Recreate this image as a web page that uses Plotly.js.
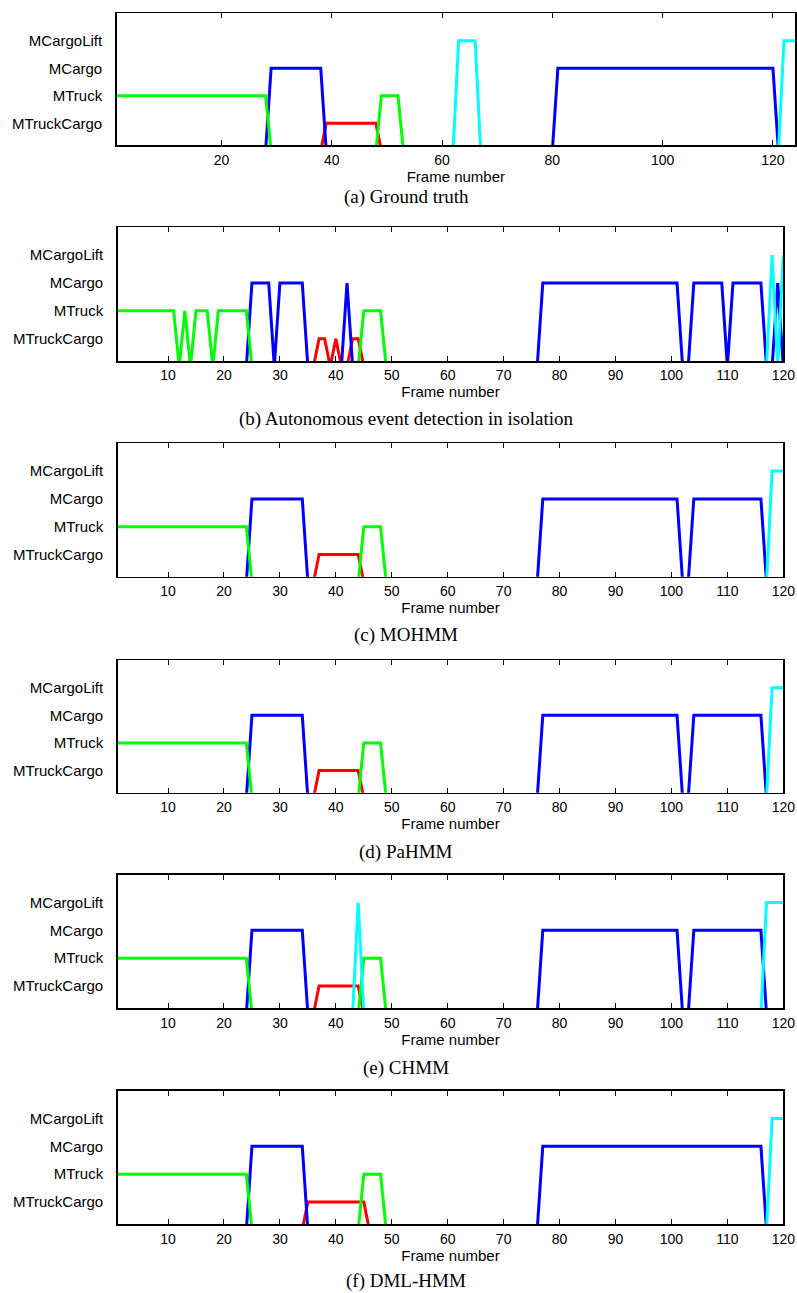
<!DOCTYPE html>
<html>
<head>
<meta charset="utf-8">
<script src="https://cdn.plot.ly/plotly-3.0.1.min.js"></script>
<style>
  html, body { margin: 0; padding: 0; background: #fff; }
  #chart { width: 797px; height: 1293px; }
</style>
</head>
<body>
<div id="chart"></div>
<script>
// ---------- DATA ----------
// y tick labels (levels 1..4)
const classNames = ['MTruckCargo', 'MTruck', 'MCargo', 'MCargoLift'];
const classColors = ['#ff0000', '#00ff00', '#0000ff', '#00ffff'];

// Each panel: segments of frames where a class is active (class, first frame, last frame)
// (a) Ground truth
const gtFrames = 124;
const gtClass = ['MTruck', 'MCargo', 'MTruckCargo', 'MTruck', 'MCargoLift', 'MCargo', 'MCargoLift'];
const gtStart = [1, 29, 39, 49, 63, 81, 122];
const gtEnd   = [28, 38, 48, 52, 66, 120, 124];

// (b) Autonomous event detection in isolation
const isoFrames = 120;
const isoClass = ['MTruck', 'MTruck', 'MTruck', 'MTruck', 'MCargo', 'MCargo', 'MTruckCargo', 'MTruckCargo',
                  'MCargo', 'MTruckCargo', 'MTruck', 'MCargo', 'MCargo', 'MCargo', 'MCargoLift', 'MCargo', 'MCargoLift'];
const isoStart = [1, 13, 15, 19, 25, 30, 37, 40, 42, 43, 45, 77, 104, 111, 118, 119, 120];
const isoEnd   = [11, 13, 17, 24, 28, 34, 38, 40, 42, 44, 48, 101, 109, 116, 118, 119, 120];

// (c) MOHMM
const mohFrames = 120;
const mohClass = ['MTruck', 'MCargo', 'MTruckCargo', 'MTruck', 'MCargo', 'MCargo', 'MCargoLift'];
const mohStart = [1, 25, 37, 45, 77, 104, 118];
const mohEnd   = [24, 34, 44, 48, 101, 116, 120];

// (d) PaHMM
const pahFrames = 120;
const pahClass = ['MTruck', 'MCargo', 'MTruckCargo', 'MTruck', 'MCargo', 'MCargo', 'MCargoLift'];
const pahStart = [1, 25, 37, 45, 77, 104, 118];
const pahEnd   = [24, 34, 44, 48, 101, 116, 120];

// (e) CHMM
const chmFrames = 120;
const chmClass = ['MTruck', 'MCargo', 'MTruckCargo', 'MCargoLift', 'MTruck', 'MCargo', 'MCargo', 'MCargoLift'];
const chmStart = [1, 25, 37, 44, 45, 77, 104, 117];
const chmEnd   = [24, 34, 44, 44, 48, 101, 116, 120];

// (f) DML-HMM
const dmlFrames = 120;
const dmlClass = ['MTruck', 'MCargo', 'MTruckCargo', 'MTruck', 'MCargo', 'MCargoLift'];
const dmlStart = [1, 25, 35, 45, 77, 118];
const dmlEnd   = [24, 34, 45, 48, 116, 120];

const captions = ['(a) Ground truth', '(b) Autonomous event detection in isolation', '(c) MOHMM',
                  '(d) PaHMM', '(e) CHMM', '(f) DML-HMM'];
const xTickA = [20, 40, 60, 80, 100, 120];
const xTickB = [10, 20, 30, 40, 50, 60, 70, 80, 90, 100, 110, 120];

// ---------- BUILD ----------
const panels = [
  {n: gtFrames,  cls: gtClass,  s: gtStart,  e: gtEnd,  ticks: xTickA, box: [116.7, 795, 13.3, 145.3]},
  {n: isoFrames, cls: isoClass, s: isoStart, e: isoEnd, ticks: xTickB, box: [117.7, 783.3, 227.3, 361]},
  {n: mohFrames, cls: mohClass, s: mohStart, e: mohEnd, ticks: xTickB, box: [117.7, 783.3, 443.3, 576.7]},
  {n: pahFrames, cls: pahClass, s: pahStart, e: pahEnd, ticks: xTickB, box: [117.7, 783.3, 660, 792.7]},
  {n: chmFrames, cls: chmClass, s: chmStart, e: chmEnd, ticks: xTickB, box: [117.7, 783.3, 874.7, 1008.3]},
  {n: dmlFrames, cls: dmlClass, s: dmlStart, e: dmlEnd, ticks: xTickB, box: [117.7, 783.3, 1090.7, 1224.3]}
];
const captionY = [197, 419, 635, 852, 1068, 1281];

const W = 797, H = 1293;
const traces = [];
const layout = {
  width: W, height: H,
  margin: {l: 0, r: 0, t: 0, b: 0},
  paper_bgcolor: '#ffffff', plot_bgcolor: '#ffffff',
  showlegend: false,
  annotations: []
};
const drawOrder = [0, 2, 1, 3]; // red, blue, green, cyan

panels.forEach((p, i) => {
  const idx = i === 0 ? '' : String(i + 1);
  const xa = 'x' + idx, ya = 'y' + idx;
  const frames = [];
  for (let f = 1; f <= p.n; f++) frames.push(f);
  drawOrder.forEach(c => {
    const name = classNames[c];
    const y = frames.map(f => {
      for (let k = 0; k < p.cls.length; k++) {
        if (p.cls[k] === name && f >= p.s[k] && f <= p.e[k]) return c + 1;
      }
      return 0;
    });
    traces.push({
      type: 'scatter', mode: 'lines', x: frames, y: y, xaxis: xa, yaxis: ya,
      line: {color: classColors[c], width: 3}, name: name, hoverinfo: 'skip'
    });
  });
  const [l, r, t, b] = p.box;
  layout['xaxis' + idx] = {
    domain: [l / W, r / W], anchor: ya, range: [1, p.n],
    tickvals: p.ticks, ticks: 'inside', ticklen: 5, tickwidth: 1, tickcolor: '#000',
    showline: true, linecolor: '#000', linewidth: 1.5, mirror: 'ticks',
    showgrid: false, zeroline: false, ticklabelstandoff: 1,
    tickfont: {family: 'Liberation Sans, Arial, sans-serif', size: 14, color: '#000'},
    title: {text: 'Frame number', font: {family: 'Liberation Sans, Arial, sans-serif', size: 15, color: '#000'}, standoff: 2},
    fixedrange: true
  };
  layout['yaxis' + idx] = {
    domain: [1 - b / H, 1 - t / H], anchor: xa, range: [0.2, 5],
    tickvals: [1, 2, 3, 4], ticktext: classNames, ticks: '',
    showline: true, linecolor: '#000', linewidth: 1.5, mirror: true,
    showgrid: false, zeroline: false, ticklabelstandoff: 10,
    tickfont: {family: 'Liberation Sans, Arial, sans-serif', size: 15, color: '#000'},
    fixedrange: true
  };
  layout.annotations.push({
    text: captions[i], xref: 'paper', yref: 'paper',
    x: 406 / W, y: 1 - captionY[i] / H, xanchor: 'center', yanchor: 'middle',
    showarrow: false,
    font: {family: 'Liberation Serif, Times New Roman, serif', size: 19, color: '#000'}
  });
});

Plotly.newPlot('chart', traces, layout, {staticPlot: true, displayModeBar: false});
</script>
</body>
</html>
